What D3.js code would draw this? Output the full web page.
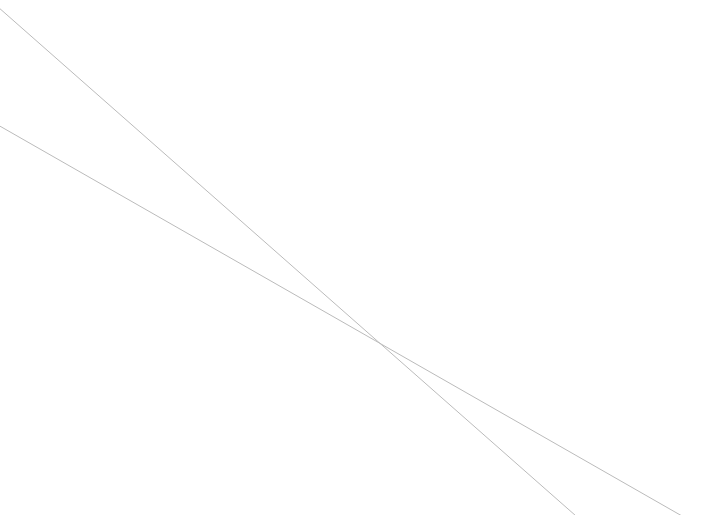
<!DOCTYPE html>
<html>
<head>
<meta charset="utf-8">
<script src="https://cdn.jsdelivr.net/npm/d3@7"></script>
<style>
  body { margin: 0; background: #fff; }
  svg { display: block; }
</style>
</head>
<body>
<svg id="chart" width="710" height="515"></svg>
<script>
// two straight series, end points
var xValues = [0, 100];
var seriesA = [98.3, -23.1];
var seriesB = [75.5, -3.3];

var width = 710,
  height = 515,
  svg = d3.select("#chart");

var x = d3.scaleLinear().domain([0, 100]).range([0, width]);
var y = d3.scaleLinear().domain([100, 0]).range([0, height]);

var line = d3.line()
  .x(function (d) { return x(d[0]); })
  .y(function (d) { return y(d[1]); });

[seriesA, seriesB].forEach(function (s) {
  svg.append("path")
    .datum(d3.zip(xValues, s))
    .attr("fill", "none")
    .attr("stroke", "#bbb")
    .attr("stroke-width", 1)
    .attr("d", line);
});
</script>
</body>
</html>
